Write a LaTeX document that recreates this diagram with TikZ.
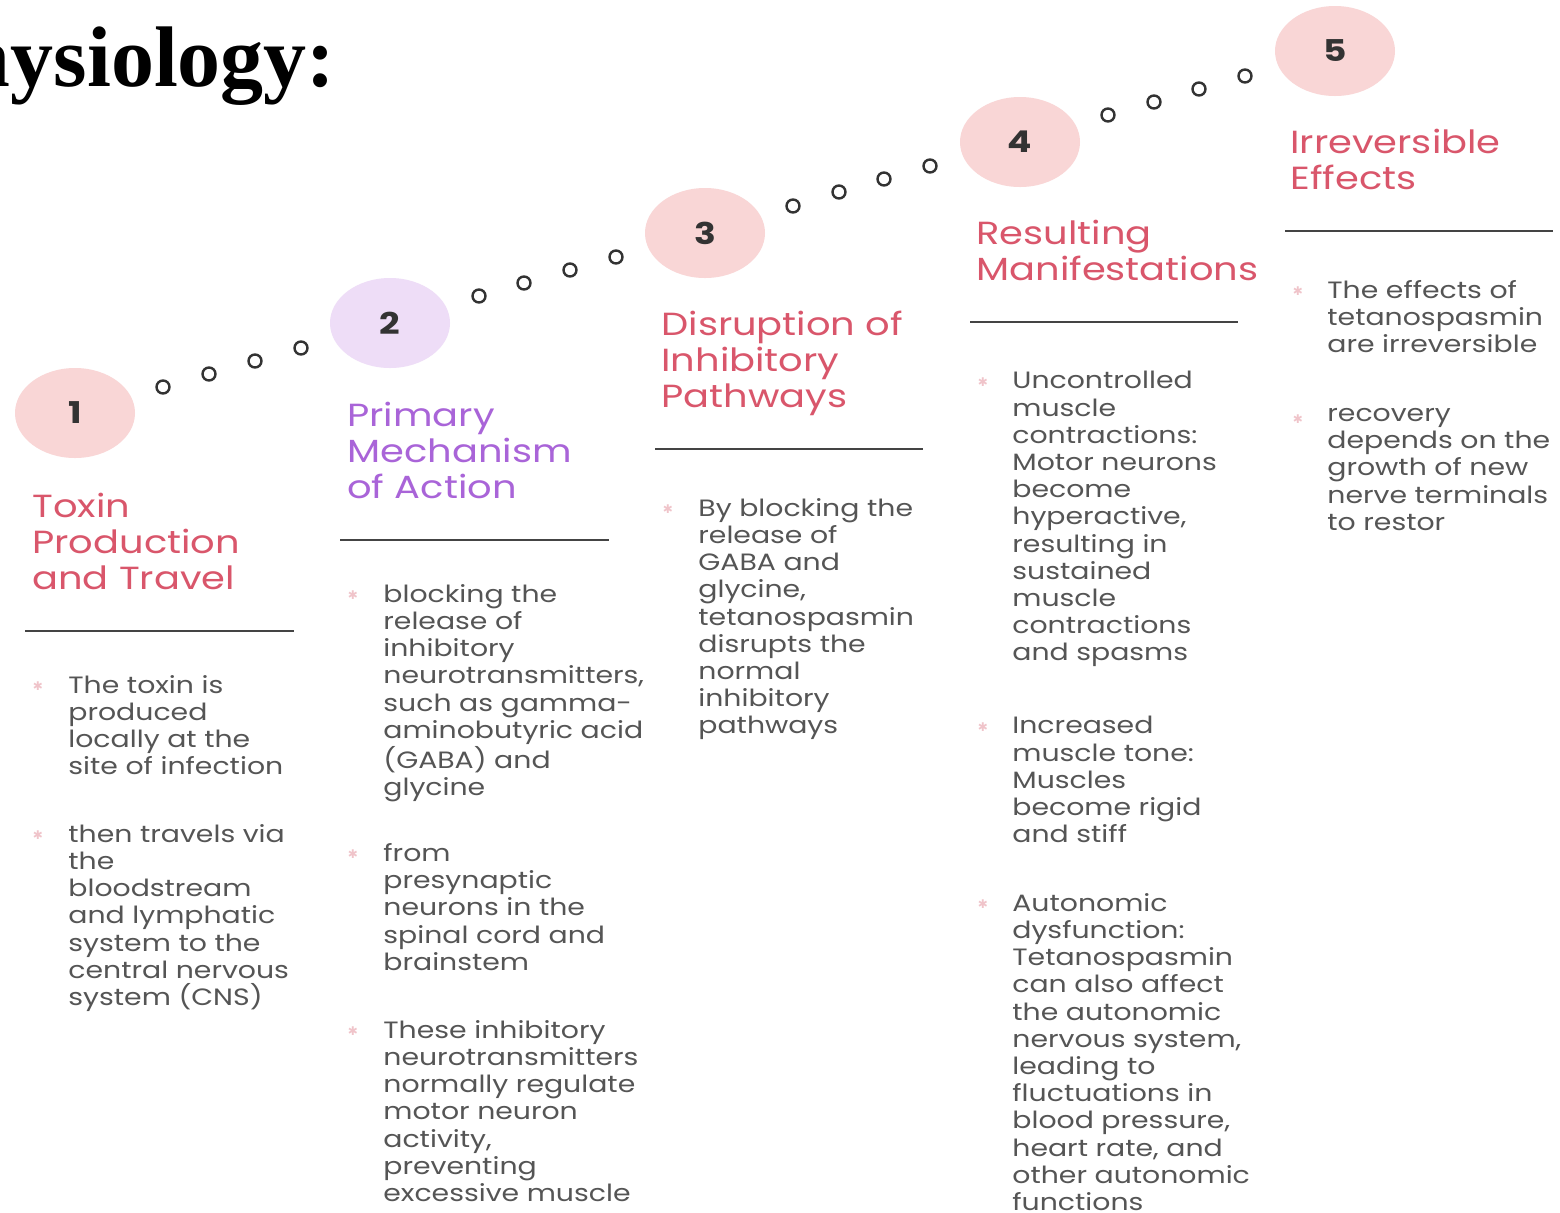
\documentclass[tikz,border=0pt]{standalone}
\usepackage{fontspec}
\newfontfamily\hand[FakeStretch=1.2]{Poppins}
\newfontfamily\symb{DejaVu Sans}
\setmainfont{Liberation Serif}
\usetikzlibrary{shapes.geometric}
\definecolor{pinkfill}{HTML}{F9D6D6}
\definecolor{lavfill}{HTML}{EEDDF7}
\definecolor{pinktxt}{HTML}{D9566B}
\definecolor{purptxt}{HTML}{A964D8}
\definecolor{bodytxt}{HTML}{555555}
\definecolor{rulecol}{HTML}{444444}
\definecolor{dotcol}{HTML}{333333}
\definecolor{starcol}{HTML}{F0C4CA}
\begin{document}
\begin{tikzpicture}[x=0.5pt,y=-0.5pt,
  stepcirc/.style={ellipse, minimum width=60pt, minimum height=45pt, inner sep=0pt, font=\hand\bfseries\fontsize{15}{18}\selectfont, text=dotcol},
  dotc/.style={draw=dotcol, line width=1.2pt, circle, minimum size=6.5pt, inner sep=0pt},
  ttl/.style={anchor=north west, inner sep=0pt, align=left, font=\hand\fontsize{16}{18}\selectfont},
  body/.style={anchor=north west, inner sep=0pt, align=left, text=bodytxt, font=\hand\fontsize{11.8}{13.6}\selectfont},
  star/.style={inner sep=0pt, text=starcol, font=\symb\fontsize{6}{6}\selectfont},
  rul/.style={draw=rulecol, line width=1.4pt}
]
\useasboundingbox (0,0) rectangle (1560,1212);
\clip (0,0) rectangle (1560,1212);
\fill[white] (0,0) rectangle (1560,1212);

% heading
\node[anchor=base east, inner sep=0pt, font=\bfseries\fontsize{43}{50}\selectfont] (head) at (336,86) {Pathophysiology:};

% step circles
\node[stepcirc, fill=pinkfill] (c1) at (75,413) {1};
\node[stepcirc, fill=lavfill] (c2) at (390,323) {2};
\node[stepcirc, fill=pinkfill] (c3) at (705,233) {3};
\node[stepcirc, fill=pinkfill] (c4) at (1020,142) {4};
\node[stepcirc, fill=pinkfill] (c5) at (1335,51) {5};

% dots
\foreach \i/\x/\y in {1/163/387,2/209/374,3/255/361,4/301/348}{\node[dotc] (da\i) at (\x,\y) {};}
\foreach \i/\x/\y in {1/479/296,2/524/283,3/570/270,4/616/257}{\node[dotc] (db\i) at (\x,\y) {};}
\foreach \i/\x/\y in {1/793/206,2/839/192,3/884/179,4/930/166}{\node[dotc] (dc\i) at (\x,\y) {};}
\foreach \i/\x/\y in {1/1108/115,2/1154/102,3/1199/89,4/1245/76}{\node[dotc] (dd\i) at (\x,\y) {};}

% titles
\node[ttl, text=pinktxt] (t1) at (32,493) {Toxin\\Production\\and Travel};
\node[ttl, text=purptxt] (t2) at (347,402) {Primary\\Mechanism\\of Action};
\node[ttl, text=pinktxt] (t3) at (661,311) {Disruption of\\Inhibitory\\Pathways};
\node[ttl, text=pinktxt] (t4) at (976,220) {Resulting\\Manifestations};
\node[ttl, text=pinktxt] (t5) at (1290,129) {Irreversible\\Effects};

% rules
\draw[rul] (25,631) -- (294,631);
\draw[rul] (340,540) -- (609,540);
\draw[rul] (655,449) -- (923,449);
\draw[rul] (970,322) -- (1238,322);
\draw[rul] (1285,231) -- (1553,231);

% column 1
\node[star] (s11) at (38,686) {✱};
\node[body] (b11) at (68,675) {The toxin is\\produced\\locally at the\\site of infection};
\node[star] (s12) at (38,835) {✱};
\node[body] (b12) at (68,824) {then travels via\\the\\bloodstream\\and lymphatic\\system to the\\central nervous\\system (CNS)};

% column 2
\node[star] (s21) at (353,595) {✱};
\node[body] (b21) at (383,584) {blocking the\\release of\\inhibitory\\neurotransmitters,\\such as gamma-\\aminobutyric acid\\(GABA) and\\glycine};
\node[star] (s22) at (353,854) {✱};
\node[body] (b22) at (383,843) {from\\presynaptic\\neurons in the\\spinal cord and\\brainstem};
\node[star] (s23) at (353,1031) {✱};
\node[body] (b23) at (383,1020) {These inhibitory\\neurotransmitters\\normally regulate\\motor neuron\\activity,\\preventing\\excessive muscle};

% column 3
\node[star] (s31) at (668,509) {✱};
\node[body] (b31) at (698,498) {By blocking the\\release of\\GABA and\\glycine,\\tetanospasmin\\disrupts the\\normal\\inhibitory\\pathways};

% column 4
\node[star] (s41) at (983,382) {✱};
\node[body] (b41) at (1012,371) {Uncontrolled\\muscle\\contractions:\\Motor neurons\\become\\hyperactive,\\resulting in\\sustained\\muscle\\contractions\\and spasms};
\node[star] (s42) at (983,727) {✱};
\node[body] (b42) at (1012,716) {Increased\\muscle tone:\\Muscles\\become rigid\\and stiff};
\node[star] (s43) at (983,904) {✱};
\node[body] (b43) at (1012,893) {Autonomic\\dysfunction:\\Tetanospasmin\\can also affect\\the autonomic\\nervous system,\\leading to\\fluctuations in\\blood pressure,\\heart rate, and\\other autonomic\\functions};

% column 5
\node[star] (s51) at (1298,291) {✱};
\node[body] (b51) at (1327,280) {The effects of\\tetanospasmin\\are irreversible};
\node[star] (s52) at (1298,419) {✱};
\node[body] (b52) at (1327,408) {recovery\\depends on the\\growth of new\\nerve terminals\\to restor};
\end{tikzpicture}
\end{document}
